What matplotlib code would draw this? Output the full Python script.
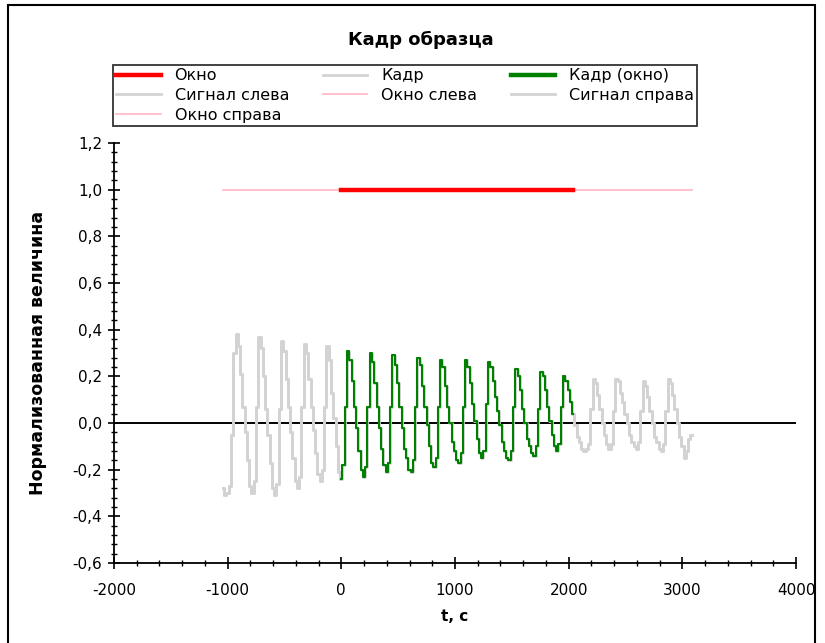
import numpy as np
import matplotlib
matplotlib.use("Agg")
import matplotlib.pyplot as plt
from matplotlib.ticker import MultipleLocator, FuncFormatter
from matplotlib.patches import Rectangle

plt.rcParams['font.family'] = ['DejaVu Sans']
plt.rcParams['axes.unicode_minus'] = False

# --- данные ---
t_start = -1040.0   # мс, первый отсчёт
dt = 20.0           # шаг дискретизации
signal = [
    -0.28, -0.31, -0.30, -0.27, -0.05, 0.30,
    0.38, 0.33, 0.21, 0.07, -0.04, -0.16, -0.27, -0.30, -0.25, 0.07,
    0.37, 0.32, 0.20, 0.06, -0.05, -0.17, -0.28, -0.31, -0.26, 0.06,
    0.35, 0.31, 0.19, 0.07, -0.04, -0.15, -0.25, -0.28, -0.23, 0.07,
    0.34, 0.30, 0.19, 0.07, -0.03, -0.13, -0.22, -0.25, -0.20, 0.07,
    0.33, 0.27, 0.13, 0.02, -0.10, -0.21, -0.24, -0.18, 0.07,
    0.31, 0.27, 0.18, 0.07, -0.02, -0.12, -0.20, -0.23, -0.19, 0.07,
    0.30, 0.26, 0.17, 0.07, -0.02, -0.11, -0.18, -0.21, -0.17, 0.07,
    0.29, 0.25, 0.17, 0.07, -0.02, -0.11, -0.15, -0.20, -0.21, -0.16, 0.07,
    0.28, 0.25, 0.16, 0.07, -0.01, -0.10, -0.17, -0.19, -0.15, 0.07,
    0.27, 0.24, 0.16, 0.07, 0.00, -0.08, -0.12, -0.16, -0.17, -0.13, 0.07,
    0.27, 0.24, 0.17, 0.08, 0.01, -0.07, -0.13, -0.15, -0.12, 0.08,
    0.26, 0.24, 0.18, 0.11, 0.05, -0.01, -0.08, -0.12, -0.15, -0.16, -0.12, 0.07,
    0.23, 0.20, 0.14, 0.06, 0.00, -0.07, -0.10, -0.13, -0.14, -0.10, 0.06,
    0.22, 0.20, 0.14, 0.07, 0.01, -0.05, -0.10, -0.12, -0.09, 0.07,
    0.20, 0.18, 0.14, 0.09, 0.04, -0.01, -0.06, -0.08, -0.11, -0.12, -0.11, -0.09, 0.06,
    0.19, 0.17, 0.12, 0.06, 0.00, -0.05, -0.09, -0.11, -0.09, 0.05,
    0.19, 0.18, 0.13, 0.09, 0.04, 0.00, -0.05, -0.08, -0.10, -0.11, -0.08, 0.05,
    0.18, 0.16, 0.11, 0.05, 0.00, -0.06, -0.08, -0.11, -0.12, -0.09, 0.05,
    0.19, 0.17, 0.12, 0.06, 0.00, -0.06, -0.10, -0.15, -0.12, -0.07, -0.05,
]
frame_start = 0.0      # начало окна, мс
frame_end = 2040.0     # конец окна, мс
window_level = 1.0

signal = np.array(signal)
t = t_start + dt * np.arange(len(signal))
t_end = t[-1]

in_frame = (t >= frame_start) & (t <= frame_end)
left = t <= frame_start
right = t >= frame_end

fig = plt.figure(figsize=(8.25, 6.43), dpi=100)
ax = fig.add_axes([0.138, 0.1244, 0.827, 0.653])

gray = '#d3d3d3'
pink = '#ffb6c1'

h_frame, = ax.plot(t, signal, color=gray, lw=2.0, drawstyle='steps-mid', label='Кадр')
h_sl, = ax.plot(t[left], signal[left], color=gray, lw=2.0, drawstyle='steps-mid', label='Сигнал слева')
h_sr, = ax.plot(t[right], signal[right], color=gray, lw=2.0, drawstyle='steps-mid', label='Сигнал справа')
h_fw, = ax.plot(t[in_frame], signal[in_frame], color='#008000', lw=1.5, drawstyle='steps-mid', label='Кадр (окно)')

h_wl, = ax.plot([t_start, frame_start], [window_level, window_level], color=pink, lw=1.2, label='Окно слева')
h_wr, = ax.plot([frame_end, t_end], [window_level, window_level], color=pink, lw=1.2, label='Окно справа')
h_w, = ax.plot([frame_start, frame_end], [window_level, window_level], color='red', lw=3.2, label='Окно')

ax.axhline(0, color='black', lw=1.4, zorder=1)

ax.set_xlim(-2000, 4000)
ax.set_ylim(-0.6, 1.2)
ax.xaxis.set_major_locator(MultipleLocator(1000))
ax.xaxis.set_minor_locator(MultipleLocator(200))
ax.yaxis.set_major_locator(MultipleLocator(0.2))
ax.yaxis.set_minor_locator(MultipleLocator(0.04))
ax.yaxis.set_major_formatter(FuncFormatter(lambda v, p: f"{v:.1f}".replace('.', ',').replace('-0,0', '0,0')))
ax.xaxis.set_major_formatter(FuncFormatter(lambda v, p: f"{v:.0f}"))

for s in ['top', 'right']:
    ax.spines[s].set_visible(False)
for s in ['left', 'bottom']:
    ax.spines[s].set_linewidth(1.3)

ax.tick_params(which='major', direction='inout', length=9, width=1.2, labelsize=11)
ax.tick_params(which='minor', direction='inout', length=5, width=1.0)
ax.tick_params(axis='x', which='major', pad=10)
ax.tick_params(axis='y', which='major', pad=4)

ax.set_xlabel('t, с', fontsize=11, fontweight='bold', labelpad=8)
ax.set_ylabel('Нормализованная величина', fontsize=12.5, fontweight='bold', labelpad=18)

fig.text(0.51, 0.938, 'Кадр образца', ha='center', va='center', fontsize=13, fontweight='bold')

handles = [h_w, h_sl, h_wr, h_frame, h_wl, h_fw, h_sr]
leg = ax.legend(handles=handles, labels=[h.get_label() for h in handles],
                ncol=3, mode='expand', loc='upper left',
                bbox_to_anchor=(0.137, 0.899, 0.708, 0.0), bbox_transform=fig.transFigure,
                fontsize=11.5, frameon=True, fancybox=False, edgecolor='black',
                handlelength=2.8, handletextpad=0.85, labelspacing=0.3,
                borderpad=0.2, borderaxespad=0.0, columnspacing=0.3)
leg.get_frame().set_linewidth(1.3)
for h in leg.legend_handles:
    if h.get_color() == '#008000':
        h.set_linewidth(3.2)

# рамка вокруг рисунка
fig.patches.append(Rectangle((8 / 825, -0.01), (815 - 8) / 825, 1.01 - 5 / 643,
                             transform=fig.transFigure, fill=False, edgecolor='black', lw=1.5))

fig.savefig('out.png', dpi=100)
